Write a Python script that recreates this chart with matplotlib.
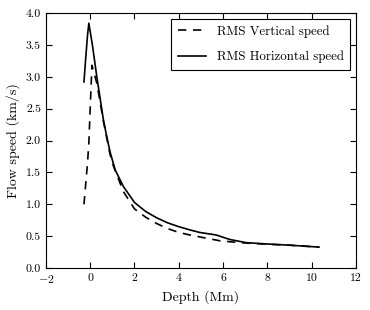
import matplotlib
matplotlib.use('Agg')
import matplotlib.pyplot as plt

# RMS speeds against depth
depth_h = [-0.28, -0.2, -0.12, -0.06, 0.1, 0.3, 0.6, 0.75, 0.9, 1.13, 1.5, 2.0,
           2.5, 3.0, 3.5, 4.0, 4.5, 4.94, 5.69, 6.3, 7.04, 7.94, 9.0, 10.33]
speed_h = [2.92, 3.3, 3.65, 3.84, 3.5, 3.0, 2.32, 2.06, 1.82, 1.54, 1.28, 1.03,
           0.89, 0.79, 0.71, 0.65, 0.60, 0.56, 0.52, 0.45, 0.40, 0.38, 0.36, 0.33]

depth_v = [-0.28, -0.12, -0.06, 0.0, 0.08, 0.3, 0.6, 0.9, 1.05, 1.5, 2.0,
           2.5, 3.0, 3.5, 4.0, 4.5, 4.94, 5.84, 6.74, 7.5, 8.0, 9.0, 10.33]
speed_v = [1.0, 1.65, 1.96, 2.5, 3.18, 2.9, 2.3, 1.78, 1.6, 1.2, 0.93,
           0.80, 0.70, 0.62, 0.56, 0.52, 0.49, 0.43, 0.40, 0.385, 0.375, 0.36, 0.33]

plt.rcParams['font.family'] = 'serif'
plt.rcParams['font.serif'] = ['cmr10']
plt.rcParams['mathtext.fontset'] = 'cm'

fig = plt.figure(figsize=(3.7, 3.1), dpi=100)
ax = fig.add_axes([0.124, 0.135, 0.838, 0.823])

ax.plot(depth_v, speed_v, 'k--', lw=1.2, dashes=(5, 4), label='RMS Vertical speed')
ax.plot(depth_h, speed_h, 'k-', lw=1.2, label='RMS Horizontal speed')

ax.set_xlim(-2, 12)
ax.set_ylim(0, 4)
ax.set_xticks(range(-2, 13, 2))
ax.set_yticks([0, 0.5, 1, 1.5, 2, 2.5, 3, 3.5, 4])
ax.set_yticklabels(['0.0', '0.5', '1.0', '1.5', '2.0', '2.5', '3.0', '3.5', '4.0'])
ax.set_xticklabels(['$-2$', '0', '2', '4', '6', '8', '10', '12'])
ax.tick_params(direction='in', top=True, right=True, labelsize=8.5, length=4)
ax.set_xlabel('Depth (Mm)', fontsize=10)
ax.set_ylabel('Flow speed (km/s)', fontsize=10)

leg = ax.legend(loc='upper right', fontsize=9.3, fancybox=False, framealpha=1,
                edgecolor='black', handlelength=2.2, borderaxespad=0.45,
                labelspacing=1.0, borderpad=0.5)
leg.get_frame().set_linewidth(0.8)

fig.savefig('out.png', dpi=100)
